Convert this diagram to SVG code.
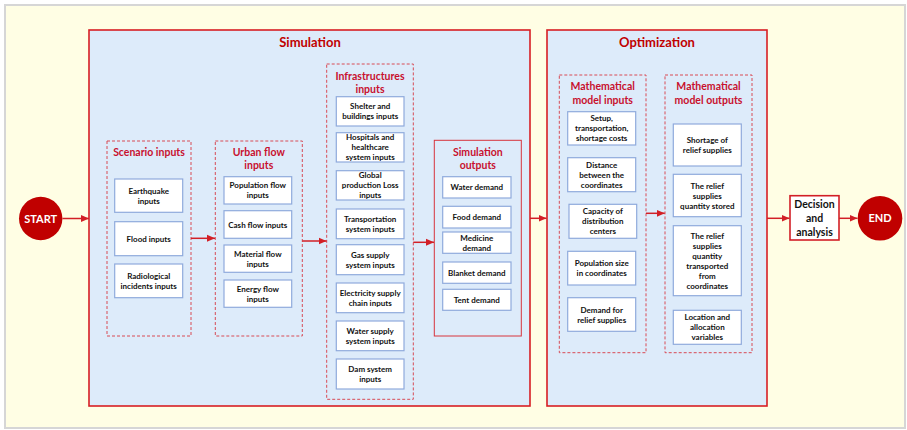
<svg xmlns="http://www.w3.org/2000/svg" width="907" height="430" viewBox="0 0 907 430">
<defs>
<marker id="ah" markerUnits="userSpaceOnUse" markerWidth="8" markerHeight="8" refX="8" refY="4" orient="auto">
<path d="M0,0.5 L8,4 L0,7.5 Z" fill="#D21F26"/>
</marker>
<style>
.bg{fill:#FFFEE4;stroke:#D6D6D6;stroke-width:2}
.panel{fill:#DDEBFA;stroke:#D81E23;stroke-width:1.6}
.dash{fill:none;stroke:#D84A55;stroke-width:1;stroke-dasharray:3,2}
.solid{fill:none;stroke:#D8343C;stroke-width:1}
.ib{fill:#FFFFFF;stroke:#8FAADC;stroke-width:1.2}
.t{font-family:Lato,"Liberation Sans",sans-serif;font-weight:bold;font-size:8px;fill:#111;text-anchor:middle}
.h1{font-family:Lato,"Liberation Sans",sans-serif;font-weight:bold;font-size:13px;fill:#C00000;text-anchor:middle}
.h2{font-family:Lato,"Liberation Sans",sans-serif;font-weight:bold;font-size:10.5px;fill:#C8102E;text-anchor:middle}
.circ{fill:#C00000}
.ct{font-family:Lato,"Liberation Sans",sans-serif;font-weight:bold;font-size:11px;fill:#FFFFFF;text-anchor:middle}
.dec{fill:#FFFFFF;stroke:#D21F26;stroke-width:1.6}
.dt{font-family:Lato,"Liberation Sans",sans-serif;font-weight:bold;font-size:10.5px;fill:#111;text-anchor:middle}
.c{fill:none;stroke:#D21F26;stroke-width:1.5;marker-end:url(#ah)}
</style>
</defs>
<rect class="bg" x="5" y="5" width="900" height="423"/>

<g id="simulation">
<rect class="panel" x="89" y="30" width="441" height="376"/>
<text class="h1" x="310" y="47">Simulation</text>
</g>
<g id="optimization">
<rect class="panel" x="547" y="30" width="220" height="376"/>
<text class="h1" x="657" y="47">Optimization</text>
</g>

<g id="scenario-inputs">
<rect class="dash" x="107" y="141" width="84" height="195"/>
<text class="h2" x="149" y="155.5">Scenario inputs</text>
</g>
<g id="earthquake"><rect class="ib" x="114.7" y="179" width="68" height="33.3"/><text class="t" x="148.7" y="193.7">Earthquake</text><text class="t" x="148.7" y="203.7">inputs</text></g>
<g id="flood"><rect class="ib" x="114.7" y="221.7" width="68" height="34"/><text class="t" x="148.7" y="241.7">Flood inputs</text></g>
<g id="radiological"><rect class="ib" x="114.7" y="264" width="68" height="33.7"/><text class="t" x="148.7" y="279">Radiological</text><text class="t" x="148.7" y="289">incidents inputs</text></g>

<g id="urban-flow-inputs">
<rect class="dash" x="215.3" y="141" width="87" height="195"/>
<text class="h2" x="258.8" y="155.5">Urban flow</text>
<text class="h2" x="258.8" y="169">inputs</text>
</g>
<g id="population-flow"><rect class="ib" x="224" y="176.7" width="67.7" height="27.3"/><text class="t" x="257.8" y="188.3">Population flow</text><text class="t" x="257.8" y="198.3">inputs</text></g>
<g id="cash-flow"><rect class="ib" x="224" y="210.7" width="67.7" height="27.6"/><text class="t" x="257.8" y="227.5">Cash flow inputs</text></g>
<g id="material-flow"><rect class="ib" x="224" y="245" width="67.7" height="27.3"/><text class="t" x="257.8" y="256.7">Material flow</text><text class="t" x="257.8" y="266.7">inputs</text></g>
<g id="energy-flow"><rect class="ib" x="224" y="280" width="67.7" height="27.3"/><text class="t" x="257.8" y="291.7">Energy flow</text><text class="t" x="257.8" y="301.7">inputs</text></g>

<g id="infrastructures-inputs">
<rect class="dash" x="326.7" y="64" width="86.6" height="335.3"/>
<text class="h2" x="370" y="79.5">Infrastructures</text>
<text class="h2" x="370" y="93">inputs</text>
</g>
<g id="shelter"><rect class="ib" x="336.3" y="96.7" width="67.7" height="29.3"/><text class="t" x="370.2" y="109.3">Shelter and</text><text class="t" x="370.2" y="119.3">buildings inputs</text></g>
<g id="hospitals"><rect class="ib" x="336.3" y="132.7" width="67.7" height="29.3"/><text class="t" x="370.2" y="140.3">Hospitals and</text><text class="t" x="370.2" y="150.3">healthcare</text><text class="t" x="370.2" y="160.3">system inputs</text></g>
<g id="global-production"><rect class="ib" x="336.3" y="170.7" width="67.7" height="29.3"/><text class="t" x="370.2" y="178.3">Global</text><text class="t" x="370.2" y="188.3">production Loss</text><text class="t" x="370.2" y="198.3">inputs</text></g>
<g id="transportation"><rect class="ib" x="336.3" y="209" width="67.7" height="29.7"/><text class="t" x="370.2" y="221.8">Transportation</text><text class="t" x="370.2" y="231.8">system inputs</text></g>
<g id="gas-supply"><rect class="ib" x="336.3" y="244.7" width="67.7" height="30"/><text class="t" x="370.2" y="257.7">Gas supply</text><text class="t" x="370.2" y="267.7">system inputs</text></g>
<g id="electricity-supply"><rect class="ib" x="336.3" y="283" width="67.7" height="29.7"/><text class="t" x="370.2" y="295.8">Electricity supply</text><text class="t" x="370.2" y="305.8">chain inputs</text></g>
<g id="water-supply"><rect class="ib" x="336.3" y="321" width="67.7" height="29.7"/><text class="t" x="370.2" y="333.8">Water supply</text><text class="t" x="370.2" y="343.8">system inputs</text></g>
<g id="dam-system"><rect class="ib" x="336.3" y="359" width="67.7" height="30"/><text class="t" x="370.2" y="372">Dam system</text><text class="t" x="370.2" y="382">inputs</text></g>

<g id="simulation-outputs">
<rect class="solid" x="434.3" y="140.3" width="87" height="195.7"/>
<text class="h2" x="477.8" y="155.5">Simulation</text>
<text class="h2" x="477.8" y="169">outputs</text>
</g>
<g id="water-demand"><rect class="ib" x="442.7" y="176.7" width="68.3" height="21.3"/><text class="t" x="476.8" y="190.3">Water demand</text></g>
<g id="food-demand"><rect class="ib" x="442.7" y="206.3" width="68.3" height="21.7"/><text class="t" x="476.8" y="220.2">Food demand</text></g>
<g id="medicine-demand"><rect class="ib" x="442.7" y="232" width="68.3" height="21.3"/><text class="t" x="476.8" y="241">Medicine</text><text class="t" x="476.8" y="250.5">demand</text></g>
<g id="blanket-demand"><rect class="ib" x="442.7" y="262" width="68.3" height="21.3"/><text class="t" x="476.8" y="275.7">Blanket demand</text></g>
<g id="tent-demand"><rect class="ib" x="442.7" y="289.3" width="68.3" height="21"/><text class="t" x="476.8" y="302.8">Tent demand</text></g>

<g id="math-model-inputs">
<rect class="dash" x="559.3" y="75" width="86.7" height="277.7"/>
<text class="h2" x="602.7" y="90">Mathematical</text>
<text class="h2" x="602.7" y="104">model inputs</text>
</g>
<g id="setup-costs"><rect class="ib" x="567.7" y="111.7" width="68" height="33.3"/><text class="t" x="601.7" y="121.3">Setup,</text><text class="t" x="601.7" y="131.3">transportation,</text><text class="t" x="601.7" y="141.3">shortage costs</text></g>
<g id="distance"><rect class="ib" x="567.7" y="157.7" width="68" height="34"/><text class="t" x="601.7" y="167.7">Distance</text><text class="t" x="601.7" y="177.7">between the</text><text class="t" x="601.7" y="187.7">coordinates</text></g>
<g id="capacity"><rect class="ib" x="569" y="204.3" width="67.7" height="34"/><text class="t" x="602.8" y="214.3">Capacity of</text><text class="t" x="602.8" y="224.3">distribution</text><text class="t" x="602.8" y="234.3">centers</text></g>
<g id="population-size"><rect class="ib" x="567.7" y="251.3" width="68" height="33.7"/><text class="t" x="601.7" y="266.2">Population size</text><text class="t" x="601.7" y="276.2">in coordinates</text></g>
<g id="demand-relief"><rect class="ib" x="567.7" y="297.7" width="68" height="33.6"/><text class="t" x="601.7" y="312.5">Demand for</text><text class="t" x="601.7" y="322.5">relief supplies</text></g>

<g id="math-model-outputs">
<rect class="dash" x="665" y="75" width="87" height="277.7"/>
<text class="h2" x="708.5" y="90">Mathematical</text>
<text class="h2" x="708.5" y="104">model outputs</text>
</g>
<g id="shortage"><rect class="ib" x="673.3" y="124" width="68" height="42"/><text class="t" x="707.3" y="143">Shortage of</text><text class="t" x="707.3" y="153">relief supplies</text></g>
<g id="quantity-stored"><rect class="ib" x="673.3" y="174.3" width="68" height="42.4"/><text class="t" x="707.3" y="188.5">The relief</text><text class="t" x="707.3" y="198.5">supplies</text><text class="t" x="707.3" y="208.5">quantity stored</text></g>
<g id="quantity-transported"><rect class="ib" x="673.3" y="225.7" width="68" height="70"/><text class="t" x="707.3" y="238.7">The relief</text><text class="t" x="707.3" y="248.7">supplies</text><text class="t" x="707.3" y="258.7">quantity</text><text class="t" x="707.3" y="268.7">transported</text><text class="t" x="707.3" y="278.7">from</text><text class="t" x="707.3" y="288.7">coordinates</text></g>
<g id="location-allocation"><rect class="ib" x="673.3" y="310.3" width="68" height="34"/><text class="t" x="707.3" y="320.3">Location and</text><text class="t" x="707.3" y="330.3">allocation</text><text class="t" x="707.3" y="340.3">variables</text></g>

<g id="start"><circle class="circ" cx="40.7" cy="218.5" r="21.7"/><text class="ct" x="40.7" y="222.5">START</text></g>
<g id="decision"><rect class="dec" x="790" y="195.7" width="49" height="44.3"/><text class="dt" x="814.5" y="208.3">Decision</text><text class="dt" x="814.5" y="222.3">and</text><text class="dt" x="814.5" y="235.7">analysis</text></g>
<g id="end"><circle class="circ" cx="880" cy="218.3" r="22.3"/><text class="ct" x="880" y="222.3">END</text></g>

<g id="connectors">
<line class="c" x1="62.4" y1="218.5" x2="89" y2="218.5"/>
<line class="c" x1="191" y1="238.3" x2="215" y2="238.3"/>
<line class="c" x1="302.3" y1="241" x2="326.5" y2="241"/>
<line class="c" x1="413.3" y1="242.3" x2="434" y2="242.3"/>
<line class="c" x1="530" y1="218.3" x2="546.5" y2="218.3"/>
<line class="c" x1="646" y1="213.3" x2="664.7" y2="213.3"/>
<line class="c" x1="767" y1="218.3" x2="789.5" y2="218.3"/>
<line class="c" x1="839" y1="218.3" x2="857.5" y2="218.3"/>
</g>
</svg>
